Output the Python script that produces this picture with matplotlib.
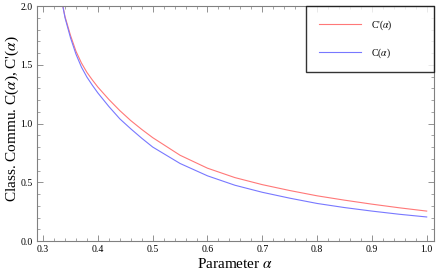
import numpy as np
import matplotlib
matplotlib.use("Agg")
import matplotlib.pyplot as plt
from matplotlib.ticker import MultipleLocator

# values
alpha = [0.336, 0.34, 0.35, 0.36, 0.37, 0.38, 0.39, 0.40, 0.42, 0.44, 0.46, 0.48,
         0.50, 0.55, 0.60, 0.65, 0.70, 0.75, 0.80, 0.85, 0.90, 0.95, 1.00]
c_prime = [2.00, 1.91, 1.75, 1.615, 1.515, 1.435, 1.37, 1.31, 1.205, 1.11, 1.025, 0.95,
           0.88, 0.73, 0.62, 0.54, 0.48, 0.43, 0.385, 0.348, 0.314, 0.283, 0.255]
c_plain = [2.00, 1.90, 1.73, 1.59, 1.48, 1.395, 1.325, 1.26, 1.145, 1.04, 0.955, 0.875,
           0.80, 0.66, 0.555, 0.475, 0.415, 0.365, 0.32, 0.285, 0.255, 0.228, 0.205]

plt.rcParams['font.family'] = ['Liberation Serif', 'DejaVu Serif']
plt.rcParams['mathtext.fontset'] = 'stix'

fig = plt.figure(figsize=(4.36, 2.73), dpi=100)
ax = fig.add_axes([0.085, 0.117, 0.91, 0.861])

ax.plot(alpha, c_prime, color='#ff7878', lw=0.8, label=r"C'($\alpha$)")
ax.plot(alpha, c_plain, color='#7878ff', lw=0.8, label=r"C($\alpha$)")

ax.set_xlim(0.289, 1.013)
ax.set_ylim(0.0, 2.0)
ax.xaxis.set_major_locator(MultipleLocator(0.1))
ax.xaxis.set_minor_locator(MultipleLocator(0.02))
ax.yaxis.set_major_locator(MultipleLocator(0.5))
ax.yaxis.set_minor_locator(MultipleLocator(0.1))
ax.xaxis.set_major_formatter(plt.FormatStrFormatter('%.1f'))
ax.yaxis.set_major_formatter(plt.FormatStrFormatter('%.1f'))

grey = '#808080'
for s in ax.spines.values():
    s.set_color(grey)
    s.set_linewidth(0.8)
ax.tick_params(which='both', direction='in', top=True, right=True,
               color=grey, labelsize=7, pad=3)
ax.tick_params(which='major', length=4, width=0.6)
ax.tick_params(which='minor', length=2, width=0.5)

ax.set_xlabel(r"Parameter $\alpha$", fontsize=11, labelpad=2)
ax.set_ylabel(r"Class. Commu. C($\alpha$), C'($\alpha$)", fontsize=11)
ax.yaxis.set_label_coords(-0.040, 0.52)

# legend box spans the upper right corner, wider than its entries
leg = ax.legend(loc='upper right', bbox_to_anchor=(0.678, 0.0, 0.322, 1.0),
                mode='expand', fontsize=7, frameon=True, fancybox=False,
                borderaxespad=0, handlelength=4.3, handletextpad=1.1,
                borderpad=1.3, labelspacing=1.45)
leg.get_frame().set_edgecolor('black')
leg.get_frame().set_linewidth(1.0)

fig.savefig('out.png', dpi=100)
